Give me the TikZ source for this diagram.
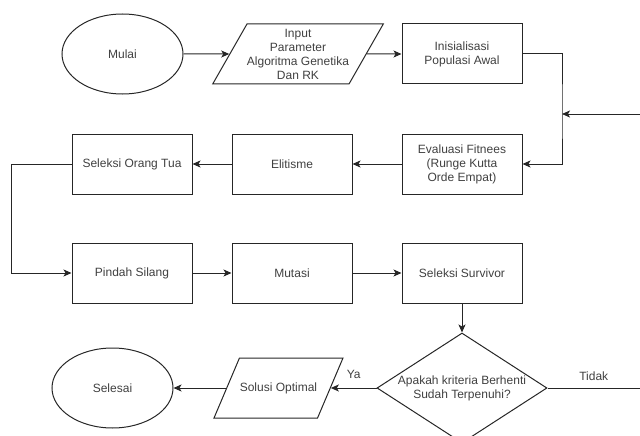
\documentclass[tikz,border=0pt]{standalone}
\usepackage{fontspec}
\setmainfont{Liberation Sans}
\usetikzlibrary{arrows.meta, shapes.geometric, positioning}

\tikzset{
  teks/.style={font=\fontsize{12}{14}\selectfont, text=black!75, align=center},
  proses/.style={teks, draw=black!85, line width=1pt, rectangle, minimum width=120pt, minimum height=60pt, inner sep=0pt},
  terminal/.style={teks, draw=black!85, line width=1pt, ellipse, minimum width=121pt, minimum height=80pt, inner sep=0pt},
  io/.style={teks, draw=black!85, line width=1pt, trapezium, trapezium stretches body, minimum height=60pt, inner xsep=0pt},
  keputusan/.style={teks, draw=black!85, line width=1pt, diamond, aspect=1.545, minimum width=170pt, minimum height=110pt, inner sep=0pt},
  panah/.style={draw=black!85, line width=1pt, -{Stealth[length=8pt, width=7pt, inset=2pt]}},
  garis/.style={draw=black!85, line width=1pt}
}

\begin{document}
\begin{tikzpicture}[x=1pt, y=-1pt]
            \useasboundingbox (0,0) rectangle (640,436);
            \clip (0,0) rectangle (640,436);

            % baris atas
            \node[terminal] (mulai) at (122.5, 54) {Mulai};
            \node[io, trapezium left angle=60, trapezium right angle=120, minimum width=170pt, inner ysep=4.5pt] (input) at (298, 54) {Input\\Parameter\\Algoritma Genetika\\Dan RK};
            \node[proses] (init) at (462, 54) {Inisialisasi\\Populasi Awal};

            % baris kedua
            \node[proses] (eval) at (462, 164) {Evaluasi Fitnees\\(Runge Kutta\\Orde Empat)};
            \node[proses] (elit) at (292, 164) {Elitisme};
            \node[proses] (ortu) at (132, 164) {Seleksi Orang Tua};

            % baris ketiga
            \node[proses] (silang) at (132, 273) {Pindah Silang};
            \node[proses] (mutasi) at (292, 273) {Mutasi};
            \node[proses] (surv) at (462, 273) {Seleksi Survivor};

            % baris bawah
            \node[keputusan] (cek) at (462, 388) {Apakah kriteria Berhenti\\Sudah Terpenuhi?};
            \node[io, trapezium left angle=67, trapezium right angle=113, minimum width=129pt, inner ysep=24.4pt] (solusi) at (278.5, 388) {Solusi Optimal};
            \node[terminal] (selesai) at (112.5, 388) {Selesai};

            \coordinate (balik) at (640, 114);
            \coordinate (gabung) at (562, 114);
            \coordinate (tidak) at (640, 388);

            \draw[panah] (mulai) -- (input);
            \draw[panah] (input) -- (init);
            \draw[panah] (init.east) -| (gabung) |- (eval.east);
            \draw[panah] (balik) -- (gabung);
            \draw[panah] (eval) -- (elit);
            \draw[panah] (elit) -- (ortu);
            \draw[panah] (ortu.west) -- ++(-60, 0) |- (silang.west);
            \draw[panah] (silang) -- (mutasi);
            \draw[panah] (mutasi) -- (surv);
            \draw[panah] (surv) -- (cek);
            \draw[panah] (cek.west) -- (solusi.east) node[teks, pos=0.5, above=6pt] {Ya};
            \draw[panah] (solusi.west) -- (selesai);
            \draw[garis] (cek.east) -- (tidak) node[teks, pos=0.5, above=4pt] {Tidak};
        \end{tikzpicture}
\end{document}
